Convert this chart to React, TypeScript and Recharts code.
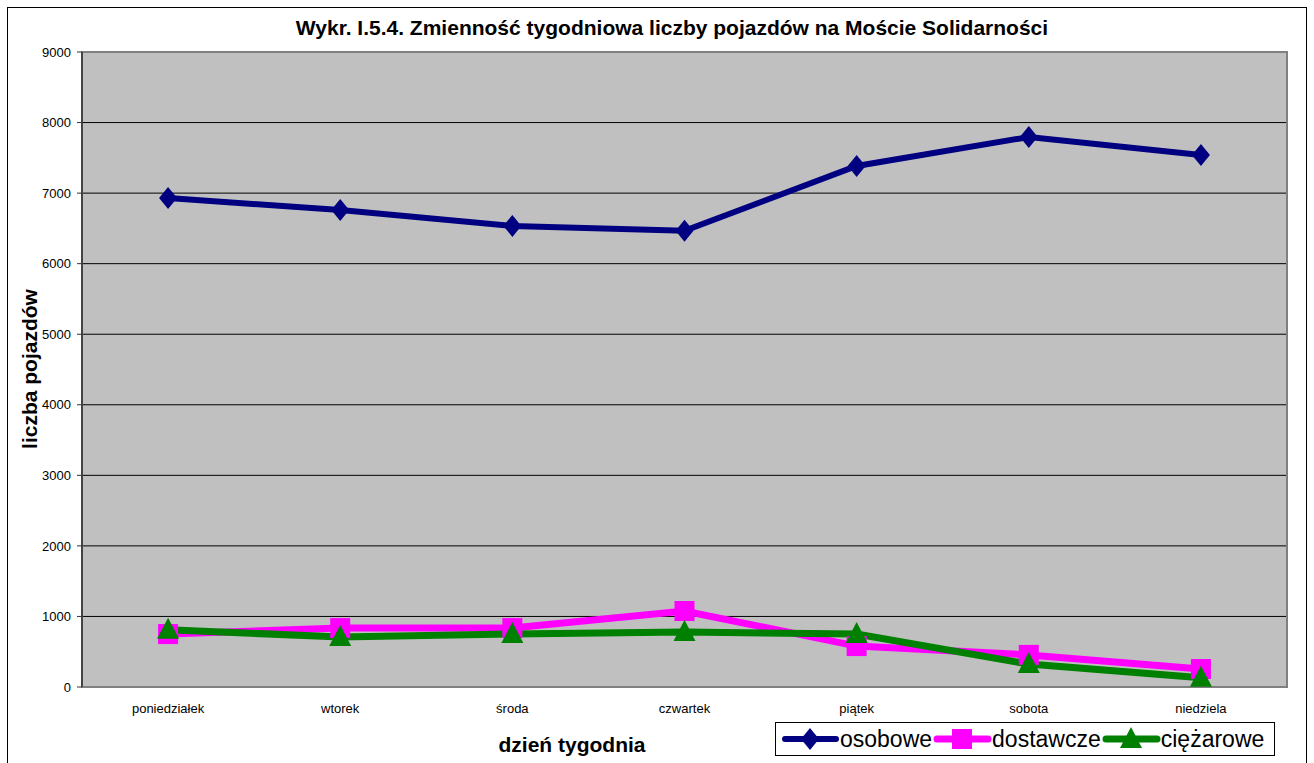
import { LineChart, Line, XAxis, YAxis, CartesianGrid, ReferenceArea } from 'recharts';

const days = ['poniedziałek', 'wtorek', 'środa', 'czwartek', 'piątek', 'sobota', 'niedziela'];
const osobowe = [6930, 6760, 6535, 6465, 7385, 7795, 7540];
const dostawcze = [750, 835, 835, 1077, 580, 455, 255];
const ciezarowe = [810, 710, 750, 780, 750, 325, 130];
const yTicks = [0, 1000, 2000, 3000, 4000, 5000, 6000, 7000, 8000, 9000];
const dayBounds = [0, 1, 2, 3, 4, 5, 6, 7];

const title = 'Wykr. I.5.4. Zmienność tygodniowa liczby pojazdów na Moście Solidarności';
const yTitle = 'liczba pojazdów';
const xTitle = 'dzień tygodnia';

const series = [
  { key: 'osobowe', name: 'osobowe', color: '#000080', width: 6, shape: 'diamond' },
  { key: 'dostawcze', name: 'dostawcze', color: '#FF00FF', width: 7, shape: 'square' },
  { key: 'ciezarowe', name: 'ciężarowe', color: '#008000', width: 7, shape: 'triangle' },
];

const data = days.map((day, i) => ({
  day,
  pos: i + 0.5,
  osobowe: osobowe[i],
  dostawcze: dostawcze[i],
  ciezarowe: ciezarowe[i],
}));

const FONT = 'Arial, "Liberation Sans", sans-serif';

const Marker = ({ shape, color, cx, cy }: any) => {
  if (cx == null || cy == null) return null;
  if (shape === 'diamond') {
    return <polygon points={`${cx},${cy - 11} ${cx + 9},${cy} ${cx},${cy + 11} ${cx - 9},${cy}`} fill={color} />;
  }
  if (shape === 'square') {
    return <rect x={cx - 10} y={cy - 10} width={20} height={20} fill={color} />;
  }
  return <polygon points={`${cx},${cy - 12} ${cx + 11},${cy + 9} ${cx - 11},${cy + 9}`} fill={color} />;
};

const LegendBox = () => (
  <div
    style={{
      position: 'absolute',
      left: 775,
      top: 722,
      width: 500,
      height: 34,
      border: '1px solid #000',
      background: '#fff',
      display: 'flex',
      alignItems: 'center',
      fontFamily: FONT,
      fontSize: 23,
      paddingLeft: 4,
      boxSizing: 'border-box',
    }}
  >
    {series.map((s) => (
      <div key={s.key} style={{ display: 'flex', alignItems: 'center' }}>
        <svg width={60} height={26}>
          <line x1={5} y1={13} x2={56} y2={13} stroke={s.color} strokeWidth={s.width} strokeLinecap="round" />
          <Marker shape={s.shape} color={s.color} cx={30} cy={13} />
        </svg>
        <span>{s.name}</span>
      </div>
    ))}
  </div>
);

export default function App() {
  return (
    <div style={{ position: 'absolute', left: 0, top: 0, width: 1314, height: 763, background: '#fff', overflow: 'hidden' }}>
      <div
        style={{
          position: 'absolute',
          left: 7,
          top: 7,
          width: 1298,
          height: 800,
          border: '1px solid #000',
        }}
      />
      <div
        style={{
          position: 'absolute',
          left: 0,
          width: 1344,
          top: 15,
          textAlign: 'center',
          fontFamily: FONT,
          fontWeight: 'bold',
          fontSize: 21,
          lineHeight: '26px',
        }}
      >
        {title}
      </div>
      <div
        style={{
          position: 'absolute',
          left: 30,
          top: 369,
          transform: 'translate(-50%, -50%) rotate(-90deg)',
          fontFamily: FONT,
          fontWeight: 'bold',
          fontSize: 21,
          whiteSpace: 'nowrap',
        }}
      >
        {yTitle}
      </div>
      <div
        style={{
          position: 'absolute',
          left: 572,
          top: 745,
          transform: 'translate(-50%, -50%)',
          fontFamily: FONT,
          fontWeight: 'bold',
          fontSize: 21,
          whiteSpace: 'nowrap',
        }}
      >
        {xTitle}
      </div>
      <div style={{ position: 'absolute', left: 0, top: 0 }}>
        <LineChart width={1314} height={763} data={data} margin={{ top: 52, right: 27, left: 0, bottom: 0 }}>
          <CartesianGrid fill="#C0C0C0" stroke="#000" strokeWidth={1} vertical={false} />
          <XAxis
            xAxisId="bounds"
            type="number"
            dataKey="pos"
            domain={[0, 7]}
            ticks={dayBounds}
            height={0}
            tick={false}
            tickSize={5}
            tickLine={{ stroke: '#333' }}
            axisLine={{ stroke: '#444', strokeWidth: 2 }}
          />
          <XAxis
            xAxisId="cat"
            dataKey="day"
            scale="band"
            height={76}
            axisLine={false}
            tickLine={false}
            tickMargin={11}
            tick={{ fill: '#000', fontSize: 13, fontFamily: FONT }}
            interval={0}
          />
          <YAxis
            width={82}
            domain={[0, 9000]}
            ticks={yTicks}
            interval={0}
            tickSize={5}
            tickMargin={6}
            tick={{ fill: '#000', fontSize: 13, fontFamily: FONT }}
            tickLine={{ stroke: '#333' }}
            axisLine={{ stroke: '#444', strokeWidth: 2 }}
          />
          <ReferenceArea xAxisId="bounds" x1={0} x2={7} y1={9000} y2={0} fill="none" stroke="#808080" strokeWidth={2} />
          {series.map((s) => (
            <Line
              key={s.key}
              xAxisId="bounds"
              type="linear"
              dataKey={s.key}
              name={s.name}
              stroke={s.color}
              strokeWidth={s.width}
              isAnimationActive={false}
              dot={(p: any) => <Marker key={`${s.key}-${p.index}`} shape={s.shape} color={s.color} cx={p.cx} cy={p.cy} />}
              activeDot={false}
            />
          ))}
        </LineChart>
      </div>
      <LegendBox />
    </div>
  );
}
